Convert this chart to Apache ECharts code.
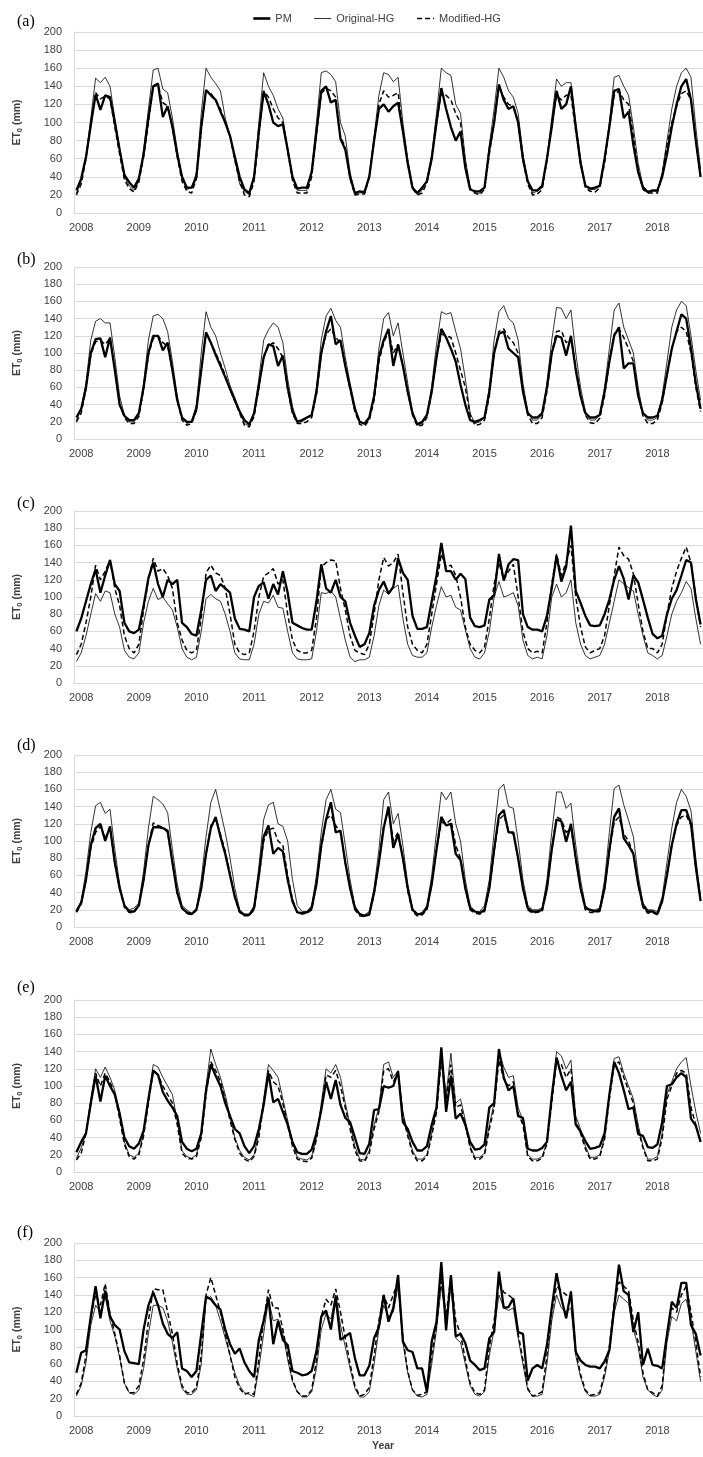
<!DOCTYPE html>
<html>
<head>
<meta charset="utf-8">
<script src="https://cdn.jsdelivr.net/npm/echarts@6/dist/echarts.min.js"></script>
<style>
  html, body { margin: 0; padding: 0; background: #fff; }
  #chart { width: 703px; height: 1457px; }
</style>
</head>
<body>
<div id="chart"></div>
<script>
// monthly ET0 (mm), Jan 2008 .. Nov 2018
const years = [2008, 2009, 2010, 2011, 2012, 2013, 2014, 2015, 2016, 2017, 2018];
const months = [];
years.forEach(function (y) {
  for (let m = 1; m <= 12; m++) months.push(y + '-' + (m < 10 ? '0' : '') + m);
});
months.length = 131;

// (a)
const pmA = [25,38,62,97,131,114,130,128,100,70,42,34, 28,38,65,105,140,143,106,118,95,65,40,28, 28,40,95,136,130,125,112,100,85,62,40,26, 22,40,90,134,120,100,96,98,70,40,27,28, 28,45,90,135,140,122,125,82,70,40,22,24, 23,40,80,115,120,112,118,122,90,55,28,22, 28,35,60,100,138,115,95,80,90,50,26,24, 24,28,70,100,142,125,115,118,100,60,35,25, 25,30,60,95,135,115,120,140,95,55,30,27, 28,30,60,95,135,137,105,112,75,45,28,23, 25,25,40,65,95,120,140,148,125,80,40];
const orgA = [22,35,62,105,149,144,150,140,105,72,40,30, 25,35,70,115,158,160,137,133,105,70,40,26, 28,45,110,160,150,143,135,105,85,60,32,24, 20,40,100,155,140,130,115,105,72,40,25,25, 25,48,100,155,157,153,145,100,85,45,22,22, 23,42,85,130,155,153,145,150,100,60,30,20, 25,37,65,110,160,155,152,120,110,60,28,22, 22,28,75,115,160,150,135,128,110,65,35,22, 24,28,60,105,148,140,144,144,100,60,30,26, 26,30,60,100,150,152,140,130,95,55,30,24, 24,24,45,80,115,140,155,160,150,95,48];
const modA = [20,32,60,100,133,126,129,126,95,65,37,27, 23,34,62,100,140,141,122,118,95,62,35,24, 22,38,92,135,132,125,115,100,85,58,35,20, 18,35,85,135,128,115,105,100,68,36,22,22, 22,40,88,132,138,135,128,85,72,38,20,21, 21,40,80,120,135,128,130,133,92,55,27,20, 22,33,60,100,133,130,125,110,100,55,27,22, 20,26,65,100,140,128,120,118,100,58,32,20, 21,26,58,100,130,125,130,130,90,55,28,24, 23,28,55,95,130,135,125,120,85,48,26,22, 22,22,42,75,100,118,132,135,125,80,38];

// (b)
const pmB = [25,35,60,100,116,117,95,118,80,40,27,22, 22,30,60,100,120,120,103,112,80,45,25,20, 20,35,80,124,112,98,85,72,58,45,32,22, 17,30,62,95,110,108,85,97,60,32,20,22, 25,28,55,100,125,143,110,115,85,60,35,20, 18,25,50,95,115,128,85,110,85,55,30,17, 20,28,55,95,128,118,105,90,63,40,22,20, 22,25,55,100,122,125,105,100,95,55,30,25, 25,30,60,100,120,118,97,120,80,50,30,25, 25,28,55,90,120,130,82,88,88,50,30,25, 25,27,45,75,105,125,145,140,105,65,35];
const orgB = [22,35,65,115,137,140,135,135,95,50,28,20, 20,28,65,115,143,145,140,125,90,50,25,18, 20,40,100,148,130,120,100,82,62,48,32,18, 15,30,70,115,127,135,130,112,70,38,20,20, 24,27,60,115,143,152,138,130,95,65,38,20, 17,23,50,105,140,147,120,135,100,65,32,16, 18,28,62,110,148,145,147,125,105,70,30,18, 20,25,60,115,148,155,140,135,115,65,32,22, 22,28,65,115,153,152,140,150,100,60,32,22, 22,28,60,105,150,158,130,115,100,60,30,22, 22,25,50,90,130,150,160,155,120,80,45];
const modB = [20,30,58,98,113,115,110,117,82,40,25,18, 18,26,58,98,117,120,112,108,80,45,22,16, 18,33,80,122,112,100,88,74,58,44,30,16, 14,26,60,95,108,112,105,95,58,30,18,18, 20,25,52,100,122,128,118,112,85,58,32,17, 15,22,45,90,112,125,100,110,85,55,28,15, 16,25,55,95,122,120,118,100,80,60,28,16, 17,22,50,100,125,128,118,112,100,58,28,18, 18,25,55,100,125,126,112,117,85,50,28,19, 18,24,50,90,122,128,118,105,90,52,27,18, 18,22,42,75,105,125,130,125,100,60,32];

// (c)
const pmC = [60,75,95,115,132,105,125,143,115,107,70,60, 58,62,90,122,140,115,100,120,115,120,70,65, 57,55,85,120,125,107,115,110,105,75,63,62, 60,100,113,117,98,115,103,130,105,70,67,64, 62,62,95,138,110,105,120,100,95,70,55,42, 45,58,90,108,118,104,112,145,128,120,78,63, 63,65,95,125,163,130,130,120,127,121,76,66, 65,67,97,102,150,119,138,144,143,80,65,62, 62,60,78,110,148,118,135,183,107,93,78,67, 66,67,80,97,120,136,121,97,125,117,97,76, 57,52,55,80,98,108,125,143,140,98,68];
const orgC = [25,35,55,80,104,95,107,105,80,65,38,30, 28,35,70,95,110,97,100,92,85,65,40,30, 27,30,60,98,103,98,95,80,60,35,28,27, 27,45,80,95,93,102,88,87,60,35,28,27, 27,28,60,105,104,107,100,75,50,30,25,27, 27,30,55,90,108,103,110,114,75,45,32,30, 30,35,65,90,112,100,102,88,85,62,40,30, 28,35,60,100,118,100,102,105,90,50,32,28, 30,28,55,100,115,100,105,120,70,45,32,28, 30,32,45,70,95,120,115,111,107,80,55,35, 32,28,32,55,80,95,105,118,110,75,45];
const modC = [33,45,70,100,137,120,130,143,110,90,55,40, 35,45,85,120,145,130,133,125,110,70,50,38, 35,38,75,128,137,128,125,110,80,45,35,33, 35,60,100,124,128,133,115,120,80,50,38,35, 35,38,75,135,140,143,142,110,85,55,38,35, 33,45,80,120,146,136,140,150,105,65,45,38, 35,45,80,115,150,135,137,125,100,65,45,38, 35,42,75,115,140,120,130,138,100,60,40,35, 37,35,70,115,150,125,140,160,100,65,42,35, 38,40,55,90,125,158,148,144,127,92,60,40, 40,35,45,80,110,130,145,158,140,100,65];

// (d)
const pmD = [18,28,55,95,115,120,100,117,75,45,25,18, 18,25,55,95,116,116,115,112,75,40,22,17, 15,20,45,85,115,128,105,85,60,35,18,14, 14,22,60,105,118,85,92,88,55,30,17,16, 17,22,50,95,125,145,110,112,75,45,22,15, 13,15,40,75,115,140,92,108,80,45,20,15, 15,22,50,90,128,118,120,85,78,45,22,18, 16,20,45,90,130,136,110,110,80,45,22,18, 18,20,45,90,125,123,99,120,80,45,22,20, 18,20,45,90,128,138,103,95,85,50,25,18, 18,15,30,60,95,120,136,136,120,70,30];
const orgD = [20,30,65,110,141,145,132,137,90,50,25,20, 22,28,65,115,152,148,143,133,90,50,25,20, 16,22,55,105,145,160,135,110,80,45,20,15, 15,25,70,125,142,145,120,117,100,55,25,18, 18,25,60,110,148,160,137,133,95,55,25,15, 14,18,45,90,148,157,120,132,95,50,22,15, 17,25,60,110,157,148,157,120,100,55,25,18, 18,25,55,110,160,166,140,138,100,55,25,20, 20,22,55,110,157,157,138,144,95,55,25,20, 20,22,55,110,161,165,142,124,105,60,28,20, 20,18,35,75,115,145,160,152,135,80,35];
const modD = [17,27,55,92,110,117,103,115,75,45,23,17, 17,25,55,95,121,118,116,110,75,40,22,16, 14,20,45,85,118,125,108,88,62,35,17,13, 13,20,58,100,113,115,100,95,60,32,17,15, 16,20,50,92,125,130,118,110,75,45,20,13, 12,14,38,75,118,135,100,110,80,42,18,13, 14,20,50,90,122,120,125,95,80,45,20,16, 15,18,45,88,125,130,112,108,80,45,20,16, 17,18,45,90,128,125,110,115,80,45,20,17, 17,18,45,88,122,128,108,100,85,50,23,16, 17,14,30,62,95,118,128,130,118,70,30];

// (e)
const pmE = [23,35,45,80,112,82,112,100,90,68,40,30, 27,33,48,85,118,113,93,83,75,65,35,27, 24,27,45,95,125,112,100,80,65,50,45,30, 22,30,50,78,115,81,85,70,55,35,23,21, 21,26,45,72,105,85,107,78,63,58,40,22, 21,33,72,73,100,98,100,117,58,50,35,25, 25,30,55,75,145,70,112,62,68,55,35,26, 27,32,75,80,143,110,95,100,65,63,27,25, 25,28,35,88,133,112,95,105,55,47,36,27, 28,30,45,90,128,115,95,73,75,44,42,29, 28,32,58,100,102,110,115,110,62,54,35];
const orgE = [16,28,45,85,120,110,122,110,95,70,35,20, 17,22,45,85,125,122,110,100,90,60,25,18, 16,20,45,100,143,125,110,90,65,40,25,17, 14,20,45,85,125,118,110,85,60,35,17,15, 14,18,40,80,120,115,125,110,80,55,30,15, 14,25,55,75,125,128,110,118,70,45,25,15, 15,20,45,75,140,90,138,80,85,60,30,17, 17,22,55,80,140,122,110,112,75,60,20,15, 15,18,35,85,140,135,120,130,65,50,30,17, 17,20,40,90,132,134,115,100,85,55,30,15, 15,18,45,90,105,120,128,133,100,70,45];
const modE = [14,22,45,80,115,100,115,105,90,62,32,18, 15,20,42,80,118,113,100,90,80,55,22,16, 15,18,40,90,128,118,105,85,60,38,22,15, 12,18,40,80,118,105,100,80,55,30,15,13, 12,16,38,75,113,110,118,100,75,50,25,13, 12,22,50,70,118,120,105,115,65,42,22,13, 13,18,42,70,130,85,125,75,78,55,28,15, 15,20,50,75,130,108,100,105,68,55,18,13, 13,16,33,80,130,125,110,120,60,45,27,15, 15,18,38,85,125,128,110,95,80,50,28,13, 13,15,40,85,100,115,118,115,75,55,35];

// (f)
const pmF = [50,73,76,115,150,113,145,115,105,100,75,62, 61,60,100,128,143,128,107,95,90,97,55,52, 45,52,95,138,135,128,123,100,83,72,78,62, 52,45,88,110,137,83,110,88,82,52,50,47, 48,52,75,115,122,100,138,88,92,96,67,47, 47,58,90,103,140,109,125,163,86,76,74,55, 55,28,86,109,178,99,163,92,95,84,64,59, 53,55,90,97,167,125,126,136,97,95,41,55, 59,55,82,125,165,136,113,144,74,64,59,57, 57,55,63,76,125,175,144,140,97,120,59,78, 59,58,55,94,132,125,154,154,105,95,70];
const orgF = [23,35,62,105,128,120,138,110,92,68,38,27, 25,30,55,95,128,128,125,110,85,55,32,25, 25,30,60,135,138,128,110,90,70,50,35,27, 25,22,55,95,135,110,112,95,65,40,28,22, 22,28,55,100,118,112,140,105,80,55,32,22, 22,28,60,100,128,115,120,150,85,50,30,23, 22,25,60,100,150,110,150,90,85,60,35,25, 23,28,70,100,140,125,122,125,90,60,30,23, 23,25,60,110,140,125,120,125,70,45,28,23, 23,25,45,75,120,140,135,130,100,80,45,30, 25,22,30,85,115,110,130,135,110,75,40];
const modF = [25,38,70,115,140,128,153,118,95,70,38,27, 27,35,65,110,147,146,146,120,95,60,35,27, 27,33,70,140,160,140,120,95,70,45,32,25, 27,25,65,110,146,125,125,100,70,42,28,23, 23,30,65,115,135,128,147,120,90,60,35,23, 25,33,70,110,140,125,140,155,90,52,30,24, 25,28,70,105,160,115,162,110,95,65,38,27, 25,30,80,110,155,143,140,135,95,65,32,23, 25,28,70,120,150,145,140,140,75,48,30,24, 25,27,50,80,130,155,150,145,110,85,50,30, 27,23,35,95,125,120,140,150,120,85,45];

const panels = [
  { tag: '(a)', top: 32, height: 181, tagY: 14, pm: pmA, org: orgA, mod: modA },
  { tag: '(b)', top: 267, height: 172, tagY: 252, pm: pmB, org: orgB, mod: modB },
  { tag: '(c)', top: 511, height: 172, tagY: 496, pm: pmC, org: orgC, mod: modC },
  { tag: '(d)', top: 755, height: 172, tagY: 738, pm: pmD, org: orgD, mod: modD },
  { tag: '(e)', top: 1000, height: 172, tagY: 980, pm: pmE, org: orgE, mod: modE },
  { tag: '(f)', top: 1243, height: 173, tagY: 1225, pm: pmF, org: orgF, mod: modF }
];

const txt = '#404040';
const gridColor = '#d9d9d9';
const pmLine = { color: '#000', width: 2.3 };
const orgLine = { color: '#000', width: 0.8 };
const modLine = { color: '#000', width: 1.5, type: [5, 3] };

const grid = [], xAxis = [], yAxis = [], series = [], title = [];
panels.forEach(function (p, k) {
  grid.push({ left: 74, right: 0, top: p.top, height: p.height });
  title.push({
    text: p.tag, left: 17, top: p.tagY, padding: 0,
    textStyle: { fontFamily: 'Liberation Serif', fontSize: 16, fontWeight: 'normal', color: '#000' }
  });
  xAxis.push({
    type: 'category', gridIndex: k, data: months, boundaryGap: true,
    axisLine: { lineStyle: { color: gridColor } },
    axisTick: { show: false },
    axisLabel: {
      interval: function (i) { return i % 12 === 1; },
      formatter: function (v) { return v.slice(0, 4); },
      color: txt, fontSize: 11, margin: 9, fontFamily: 'Liberation Sans'
    }
  });
  yAxis.push({
    type: 'value', gridIndex: k, min: 0, max: 200, interval: 20,
    name: '{b|ET}{s|0}{b| (mm)}', nameLocation: 'middle', nameRotate: 90, nameGap: 50,
    nameTextStyle: {
      rich: {
        b: { fontWeight: 'bold', fontSize: 10.5, color: txt, fontFamily: 'Liberation Sans' },
        s: { fontWeight: 'bold', fontSize: 7.5, color: txt, fontFamily: 'Liberation Sans', padding: [6, 0, 0, 0] }
      }
    },
    axisLine: { show: true, lineStyle: { color: gridColor } },
    axisTick: { show: false },
    splitLine: { lineStyle: { color: gridColor } },
    axisLabel: { color: txt, fontSize: 11, margin: 12, fontFamily: 'Liberation Sans' }
  });
  series.push(
    { name: 'Original-HG', type: 'line', xAxisIndex: k, yAxisIndex: k, data: p.org, symbol: 'none',
      itemStyle: { color: '#000' }, lineStyle: orgLine },
    { name: 'Modified-HG', type: 'line', xAxisIndex: k, yAxisIndex: k, data: p.mod, symbol: 'none',
      itemStyle: { color: '#000' }, lineStyle: modLine },
    { name: 'PM', type: 'line', xAxisIndex: k, yAxisIndex: k, data: p.pm, symbol: 'none',
      itemStyle: { color: '#000' }, lineStyle: pmLine }
  );
});

const chart = echarts.init(document.getElementById('chart'));
chart.setOption({
  animation: false,
  backgroundColor: '#fff',
  title: title,
  legend: {
    data: [
      { name: 'PM', lineStyle: { width: 2.6 } },
      { name: 'Original-HG', lineStyle: { width: 0.8 } },
      { name: 'Modified-HG', lineStyle: { width: 1.6 } }
    ],
    left: 247, top: 8, itemWidth: 17, itemHeight: 12, itemGap: 22,
    itemStyle: { opacity: 0 },
    textStyle: { color: txt, fontSize: 11, fontFamily: 'Liberation Sans' }
  },
  grid: grid,
  xAxis: xAxis,
  yAxis: yAxis,
  series: series,
  graphic: [{
    type: 'text', left: 372, top: 1441,
    style: { text: 'Year', fontWeight: 'bold', fontSize: 10.5, fill: txt, fontFamily: 'Liberation Sans' }
  }]
});
</script>
</body>
</html>
